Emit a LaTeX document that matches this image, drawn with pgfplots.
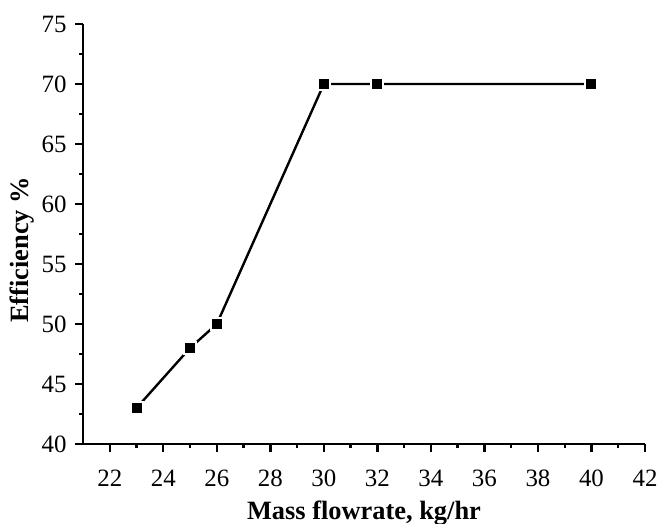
\documentclass[border=0pt]{standalone}
\usepackage{pgfplots}
\pgfplotsset{compat=1.18}
\usepackage{fontspec}
\setmainfont{Liberation Serif}
\begin{document}
\begin{tikzpicture}[x=1bp,y=1bp]
\begin{axis}[
  name=ax,
  scale only axis,
  width=562bp, height=420bp,
  xmin=21, xmax=42, ymin=40, ymax=75,
  axis lines=left,
  axis line style={line width=2.8bp,-},
  xtick={22,24,...,42}, ytick={40,45,...,75},
  minor x tick num=1, minor y tick num=1,
  tick align=outside,
  major tick length=8bp, minor tick length=4bp,
  every tick/.style={line width=2.4bp,black},
  tick label style={font=\fontsize{25}{27}\selectfont},
  xticklabel style={yshift=-14bp},
  yticklabel style={xshift=-5bp},
  /pgf/number format/assume math mode=true,
  xlabel={\textbf{Mass flowrate, kg/hr}},
  ylabel={\textbf{Efficiency \%}},
  label style={font=\fontsize{26.5}{28}\selectfont},
  xlabel style={at={(axis description cs:0.5,-0.1786)}, anchor=base},
  ylabel style={at={(axis description cs:-0.1085,0.462)}, anchor=center},
  clip=false,
]
\addplot[black, line width=2.4bp, mark=square*, mark size=6bp, mark options={solid, fill=black, draw=white, line width=2bp}] coordinates {
(23,43) (25,48) (26,50) (30,70) (32,70) (40,70)
};
\end{axis}
\pgfresetboundingbox
\path ([xshift=-83bp,yshift=-80bp]ax.south west) rectangle ([xshift=12bp,yshift=24bp]ax.north east);
\end{tikzpicture}
\end{document}
